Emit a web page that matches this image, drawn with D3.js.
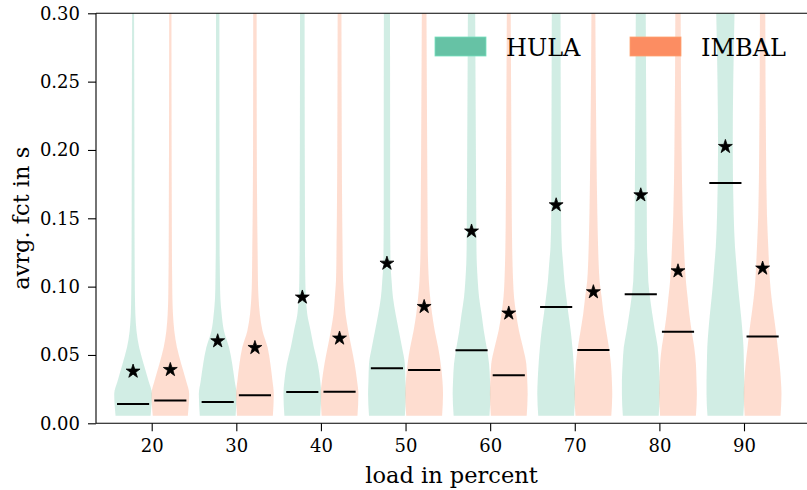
<!DOCTYPE html>
<html>
<head>
<meta charset="utf-8">
<script src="https://cdn.jsdelivr.net/npm/d3@7"></script>
<style>
  body { margin: 0; background: #fff; }
  svg text { font-family: 'DejaVu Serif', serif; fill: #000; }
</style>
</head>
<body>
<div id="chart"></div>
<script>
// load levels on the x axis
const loads = [20, 30, 40, 50, 60, 70, 80, 90];
const seriesNames = ['HULA', 'IMBAL'];
const seriesColors = ['#66c2a5', '#fc8d62'];

// medians and means (avrg. fct in s)
const hulaMedian = [0.0141, 0.0156, 0.0229, 0.0402, 0.0534, 0.0851, 0.0944, 0.1758];
const imbalMedian = [0.0166, 0.0205, 0.0231, 0.0390, 0.0351, 0.0536, 0.0670, 0.0636];
const hulaMean = [0.0380, 0.0602, 0.0922, 0.1170, 0.1405, 0.1597, 0.1670, 0.2024];
const imbalMean = [0.0392, 0.0553, 0.0622, 0.0853, 0.0805, 0.0961, 0.1114, 0.1134];

// violin outline: relative width read at these fct levels
const shapeLevels = [0.0056, 0.0214, 0.031, 0.0434, 0.0556, 0.0678, 0.08, 0.092, 0.104, 0.1166, 0.1288, 0.153, 0.202, 0.31];
const hulaShapes = [
  [0.93, 1.0, 0.82, 0.56, 0.32, 0.18, 0.12, 0.10, 0.09, 0.085, 0.08, 0.075, 0.07, 0.05],
  [0.95, 1.0, 0.90, 0.77, 0.60, 0.33, 0.21, 0.14, 0.12, 0.11, 0.10, 0.10, 0.095, 0.09],
  [0.95, 1.0, 0.95, 0.82, 0.61, 0.44, 0.26, 0.19, 0.16, 0.15, 0.14, 0.14, 0.13, 0.12],
  [0.95, 1.0, 0.98, 0.95, 0.80, 0.63, 0.46, 0.32, 0.25, 0.19, 0.18, 0.17, 0.17, 0.16],
  [0.95, 1.0, 0.98, 0.93, 0.80, 0.65, 0.53, 0.40, 0.33, 0.28, 0.26, 0.25, 0.23, 0.19],
  [0.95, 1.0, 0.98, 0.93, 0.86, 0.77, 0.65, 0.54, 0.44, 0.37, 0.30, 0.26, 0.25, 0.23],
  [0.95, 1.0, 1.0, 0.96, 0.90, 0.75, 0.61, 0.49, 0.40, 0.37, 0.33, 0.32, 0.30, 0.26],
  [0.95, 1.0, 1.0, 0.98, 0.96, 0.90, 0.82, 0.73, 0.65, 0.58, 0.51, 0.44, 0.39, 0.50]
];
const imbalShapes = [
  [0.93, 1.0, 0.84, 0.58, 0.35, 0.21, 0.14, 0.11, 0.10, 0.09, 0.085, 0.08, 0.07, 0.06],
  [0.95, 1.0, 0.93, 0.82, 0.67, 0.40, 0.26, 0.19, 0.16, 0.15, 0.14, 0.12, 0.10, 0.09],
  [0.95, 1.0, 0.93, 0.80, 0.63, 0.46, 0.32, 0.25, 0.19, 0.17, 0.16, 0.14, 0.12, 0.10],
  [0.95, 1.0, 0.97, 0.88, 0.74, 0.56, 0.42, 0.32, 0.25, 0.21, 0.19, 0.18, 0.16, 0.12],
  [0.95, 1.0, 0.98, 0.93, 0.75, 0.54, 0.39, 0.28, 0.23, 0.20, 0.18, 0.16, 0.14, 0.10],
  [0.95, 1.0, 0.98, 0.93, 0.82, 0.68, 0.54, 0.44, 0.33, 0.28, 0.25, 0.21, 0.16, 0.10],
  [0.95, 1.0, 0.98, 0.95, 0.86, 0.72, 0.60, 0.51, 0.42, 0.36, 0.32, 0.25, 0.19, 0.14],
  [0.95, 1.0, 0.97, 0.90, 0.80, 0.70, 0.58, 0.47, 0.39, 0.34, 0.30, 0.23, 0.18, 0.14]
];
const yTicks = [0, 0.05, 0.10, 0.15, 0.20, 0.25, 0.30];

const width = 807;
const height = 490;
const box = { left: 96, right: 807, top: 13.3, bottom: 423.3 };
const offset = 2.2;     // shift of each series from the load value
const halfWidth = 2.23; // half of the widest violin, in load units
const medianHalf = 1.9;

const svg = d3.select('#chart').append('svg')
  .attr('width', width)
  .attr('height', height);

const x = d3.scaleLinear().domain([20, 90]).range([151.7, 744]);
const y = d3.scaleLinear().domain([0, 0.3]).range([box.bottom, box.top]);

svg.append('clipPath').attr('id', 'plot-clip')
  .append('rect')
  .attr('x', box.left).attr('y', box.top)
  .attr('width', box.right - box.left).attr('height', box.bottom - box.top);

const plot = svg.append('g').attr('clip-path', 'url(#plot-clip)');

const violin = (center, widths) => d3.area()
  .curve(d3.curveMonotoneY)
  .y(d => y(d))
  .x0((d, i) => x(center - halfWidth * widths[i]))
  .x1((d, i) => x(center + halfWidth * widths[i]))(shapeLevels);

const groups = [
  { shapes: hulaShapes, medians: hulaMedian, means: hulaMean, shift: -offset, color: seriesColors[0] },
  { shapes: imbalShapes, medians: imbalMedian, means: imbalMean, shift: offset, color: seriesColors[1] }
];

groups.forEach(g => {
  plot.selectAll(null).data(loads).enter().append('path')
    .attr('d', (load, i) => violin(load + g.shift, g.shapes[i]))
    .attr('fill', g.color)
    .attr('fill-opacity', 0.3);
});

groups.forEach(g => {
  plot.selectAll(null).data(loads).enter().append('line')
    .attr('x1', (load) => x(load + g.shift - medianHalf))
    .attr('x2', (load) => x(load + g.shift + medianHalf))
    .attr('y1', (load, i) => y(g.medians[i]))
    .attr('y2', (load, i) => y(g.medians[i]))
    .attr('stroke', '#000')
    .attr('stroke-width', 2);

  plot.selectAll(null).data(loads).enter().append('path')
    .attr('d', d3.symbol(d3.symbolStar, 60))
    .attr('transform', (load, i) => `translate(${x(load + g.shift)},${y(g.means[i])})`)
    .attr('fill', '#000')
    .attr('stroke', '#000')
    .attr('stroke-width', 0.8);
});

// axes
const xAxis = svg.append('g')
  .attr('transform', `translate(0,${box.bottom})`)
  .call(d3.axisBottom(x).tickValues(loads).tickSize(8).tickPadding(8).tickFormat(d3.format('d')));
const yAxis = svg.append('g')
  .attr('transform', `translate(${box.left},0)`)
  .call(d3.axisLeft(y).tickValues(yTicks).tickSize(8).tickPadding(8).tickFormat(d3.format('.2f')));

[xAxis, yAxis].forEach(a => {
  a.select('.domain').remove();
  a.selectAll('.tick line').attr('stroke', '#000').attr('stroke-width', 1.1);
  a.selectAll('.tick text').style('font-family', "'DejaVu Serif', serif").style('font-size', '18px');
});

// spines
svg.append('line').attr('x1', box.left).attr('x2', box.right).attr('y1', box.bottom).attr('y2', box.bottom)
  .attr('stroke', '#000').attr('stroke-width', 1.1);
svg.append('line').attr('x1', box.left).attr('x2', box.right).attr('y1', box.top).attr('y2', box.top)
  .attr('stroke', '#000').attr('stroke-width', 1.1);
svg.append('line').attr('x1', box.left).attr('x2', box.left).attr('y1', box.top).attr('y2', box.bottom)
  .attr('stroke', '#000').attr('stroke-width', 1.1);

svg.append('text')
  .attr('x', (box.left + box.right) / 2)
  .attr('y', 483)
  .attr('text-anchor', 'middle')
  .style('font-size', '22.5px')
  .text('load in percent');

svg.append('text')
  .attr('transform', `translate(28.5,${(box.top + box.bottom) / 2}) rotate(-90)`)
  .attr('text-anchor', 'middle')
  .style('font-size', '22.5px')
  .text('avrg. fct in s');

// legend
const legendX = [435, 630];
seriesNames.forEach((name, i) => {
  svg.append('rect')
    .attr('x', legendX[i]).attr('y', 37)
    .attr('width', 51).attr('height', 19)
    .attr('fill', seriesColors[i])
    .attr('stroke', d3.color(seriesColors[i]).brighter(0.4))
    .attr('stroke-width', 0.8);
  svg.append('text')
    .attr('x', legendX[i] + 71)
    .attr('y', 55.7)
    .style('font-size', '24px')
    .text(name);
});
</script>
</body>
</html>
